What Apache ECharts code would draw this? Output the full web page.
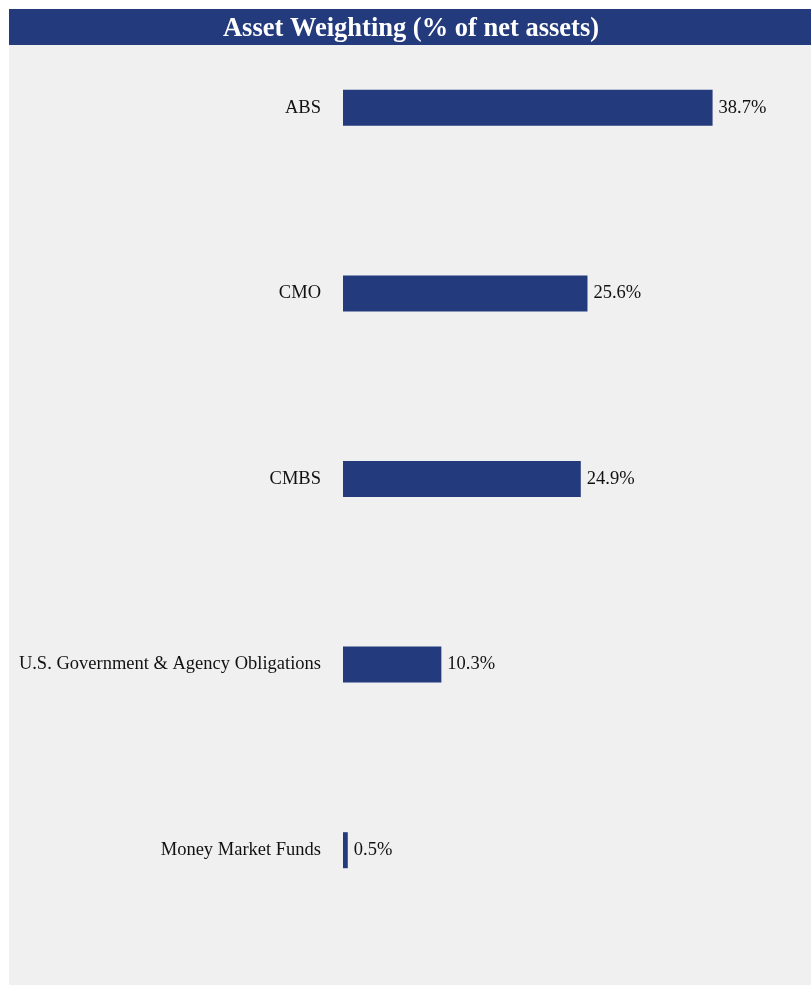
<!DOCTYPE html>
<html>
<head>
<meta charset="utf-8">
<script src="https://cdn.jsdelivr.net/npm/echarts@6/dist/echarts.min.js"></script>
<style>
	html, body { margin: 0; padding: 0; background: #fff; }
	#chart { width: 811px; height: 985px; }
</style>
</head>
<body>
<div id="chart"></div>
<script>
// 资产权重数据
var categories = ['ABS', 'CMO', 'CMBS', 'U.S. Government & Agency Obligations', 'Money Market Funds'];
var weights = [38.7, 25.6, 24.9, 10.3, 0.5];
var titleText = 'Asset Weighting (% of net assets)';

var barColor = '#233a7d';
var fontFamily = '"Liberation Serif", "Times New Roman", serif';

var chart = echarts.init(document.getElementById('chart'));
var option = {
	backgroundColor: '#ffffff',
	animation: false,
	graphic: [{
		type: 'rect',
		z: -10,
		shape: { x: 9, y: 45, width: 802, height: 940 },
		style: { fill: '#f0f0f0' }
	}, {
		type: 'rect',
		z: 10,
		shape: { x: 9, y: 9, width: 802, height: 36 },
		style: { fill: barColor }
	}, {
		type: 'text',
		z: 11,
		x: 411,
		y: 29,
		style: {
			text: titleText,
			fill: '#ffffff',
			font: 'bold 26.5px ' + fontFamily,
			align: 'center',
			verticalAlign: 'middle'
		}
	}],
	grid: {
		left: 343,
		right: 86,
		top: 15,
		bottom: 42
	},
	xAxis: {
		type: 'value',
		min: 0,
		max: 40,
		show: false
	},
	yAxis: {
		type: 'category',
		data: categories,
		inverse: true,
		axisLine: { show: false },
		axisTick: { show: false },
		splitLine: { show: false },
		axisLabel: {
			margin: 22,
			color: '#111111',
			fontSize: 18.5,
			fontFamily: fontFamily,
			padding: [0, 0, 6, 0]
		}
	},
	series: [{
		type: 'bar',
		data: weights,
		barWidth: 36,
		itemStyle: { color: barColor },
		label: {
			show: true,
			position: 'right',
			distance: 6,
			color: '#111111',
			fontSize: 18.5,
			fontFamily: fontFamily,
			padding: [0, 0, 6, 0],
			formatter: function(p) {
				return p.value.toFixed(1) + '%';
			}
		}
	}]
};
chart.setOption(option);
</script>
</body>
</html>
